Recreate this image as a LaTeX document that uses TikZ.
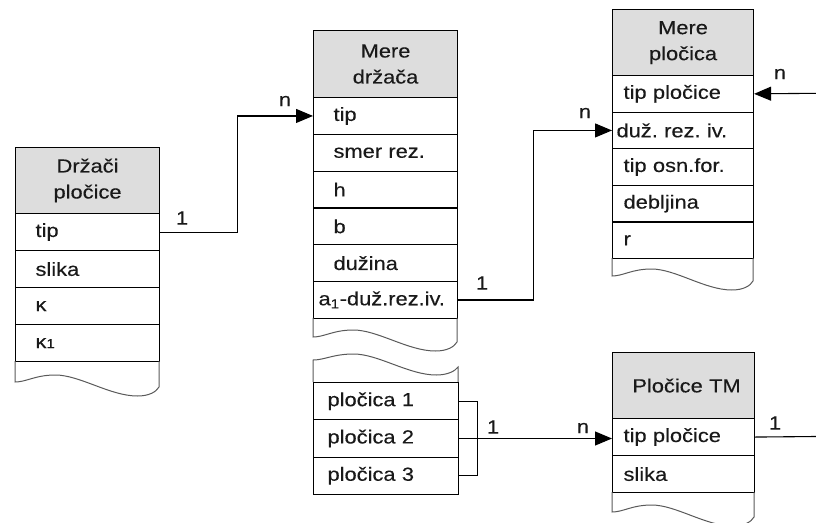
\documentclass[tikz,border=0pt]{standalone}
\usepackage{fontspec}
\setmainfont[FakeStretch=1.15,FakeBold=0.25]{Liberation Sans}
\usetikzlibrary{arrows.meta}

\definecolor{hdr}{RGB}{221,221,221}

% torn-off bottom of a table: x, row bottom, wave start, width
\newcommand\tornbottom[4]{%
  \draw[torn] (#1,#2) -- (#1,#3)
    .. controls ({#1+0.08*#4},#3) and ({#1+0.14*#4},{#3-7}) .. ({#1+0.28*#4},{#3-7})
    .. controls ({#1+0.45*#4},{#3-7}) and ({#1+0.66*#4},{#3+14}) .. ({#1+0.85*#4},{#3+14})
    .. controls ({#1+0.93*#4},{#3+14}) and ({#1+0.98*#4},{#3+10}) .. ({#1+#4},{#3+5})
    -- ({#1+#4},#2);}
% torn-off top of a table: x, box top, wave start, width
\newcommand\torntop[4]{%
  \draw[torn] (#1,#2) -- (#1,#3)
    .. controls ({#1+0.08*#4},#3) and ({#1+0.14*#4},{#3-6}) .. ({#1+0.28*#4},{#3-6})
    .. controls ({#1+0.45*#4},{#3-6}) and ({#1+0.66*#4},{#3+15}) .. ({#1+0.85*#4},{#3+15})
    .. controls ({#1+0.93*#4},{#3+15}) and ({#1+0.98*#4},{#3+11}) .. ({#1+#4},{#3+7})
    -- ({#1+#4},#2);}

\frenchspacing
\begin{document}
\begin{tikzpicture}[x=1pt,y=-1pt,
  txt/.style={font=\fontsize{19}{26}\selectfont, text=black!90},
  cell/.style={txt, draw, line width=1.1pt, fill=white, anchor=north west,
    inner ysep=0pt, align=left},
  head/.style={cell, fill=hdr, align=center},
  ltab/.style={cell, text width=104pt, inner xsep=20pt},
  mtab/.style={cell, text width=104pt, inner xsep=20pt},
  rtab/.style={cell, text width=119pt, inner xsep=11pt},
  btab/.style={cell, text width=117pt, inner xsep=14pt},
  ttab/.style={cell, text width=120pt, inner xsep=11pt},
  conn/.style={line width=1.1pt},
  arr/.style={conn, -{Triangle[length=17pt,width=14pt]}},
  mult/.style={txt, inner sep=0pt},
  torn/.style={draw=black!65, line width=1pt}]

\useasboundingbox (0,0) rectangle (816,522);
\clip (0,0) rectangle (816,522);

% Držači pločice
\node[ltab, head, minimum height=66pt] (lh) at (15,147) {Držači\\pločice};
\node[ltab, minimum height=37pt] (ltip) at (15,213) {tip};
\node[ltab, minimum height=37pt] (lsl) at (15,250) {slika};
\node[ltab, minimum height=37pt] (lk) at (15,287) {\raisebox{-3pt}{κ}};
\node[ltab, minimum height=37pt] (lk1) at (15,324) {\raisebox{-5pt}{κ{\fontsize{13}{13}\selectfont 1}}};
\tornbottom{15}{361}{382}{144}

% Mere držača
\node[mtab, head, minimum height=67pt] (mh) at (313,30) {Mere\\držača};
\node[mtab, minimum height=36.8pt] (mtip) at (313,97) {tip};
\node[mtab, minimum height=36.8pt] (msm) at (313,133.8) {smer rez.};
\node[mtab, minimum height=36.8pt] (mhh) at (313,170.6) {h};
\node[mtab, minimum height=36.8pt] (mb) at (313,207.4) {b};
\node[mtab, minimum height=36.8pt] (mdu) at (313,244.2) {dužina};
\node[cell, text width=134pt, inner xsep=5pt, minimum height=36.8pt] (ma1) at (313,281) {a\textsubscript{1}-duž.rez.iv.};
\tornbottom{313}{317.8}{337}{144}

% pločica 1-3
\torntop{313}{382}{360}{145}
\node[btab, minimum height=37.3pt] (p1) at (313,382) {pločica 1};
\node[btab, minimum height=37.3pt] (p2) at (313,419.3) {pločica 2};
\node[btab, minimum height=37.3pt] (p3) at (313,456.6) {pločica 3};

% Mere pločica
\node[rtab, head, minimum height=66pt] (rh) at (612,9) {Mere\\pločica};
\node[rtab, minimum height=36.6pt] (rtip) at (612,75) {tip pločice};
\node[rtab, minimum height=36.6pt] (rdu) at (612,111.6) {\hspace*{-7pt}duž. rez. iv.};
\node[rtab, minimum height=36.6pt] (ros) at (612,148.2) {tip osn.for.};
\node[rtab, minimum height=36.6pt] (rde) at (612,184.8) {debljina};
\node[rtab, minimum height=36.6pt] (rr) at (612,221.4) {r};
\tornbottom{612}{258}{276}{141}

% Pločice TM
\node[ttab, head, minimum height=66pt] (th) at (612,352) {\hspace*{6pt}Pločice TM};
\node[ttab, minimum height=37pt] (ttip) at (612,418) {tip pločice};
\node[ttab, minimum height=37pt] (tsl) at (612,455) {slika};
\tornbottom{612}{492}{512}{142}

% connectors
\coordinate (rin) at (816,93.3);
\coordinate (tout) at (816,436.5);
\draw[arr] (ltip.east) -- ++(77,0) |- (mtip.west);
\draw[arr] (ma1.east) -- ++(75,0) |- (rdu.west);
\draw[arr] (rin) -- (rtip.east);
\draw[conn] (ttip.east) -- (tout);
\draw[conn] (p1.east) -- ++(18,0) |- (p3.east);
\draw[arr] (p2.east) -- (p2.east -| ttip.west);

% multiplicities
\node[mult] (n1a) at (182,218) {1};
\node[mult] (n1b) at (285,101) {n};
\node[mult] (n2a) at (482,283) {1};
\node[mult] (n2b) at (585,113) {n};
\node[mult] (n3b) at (780,74) {n};
\node[mult] (n4a) at (493,427) {1};
\node[mult] (n4b) at (583,428) {n};
\node[mult] (n5a) at (775,423) {1};
\end{tikzpicture}
\end{document}
